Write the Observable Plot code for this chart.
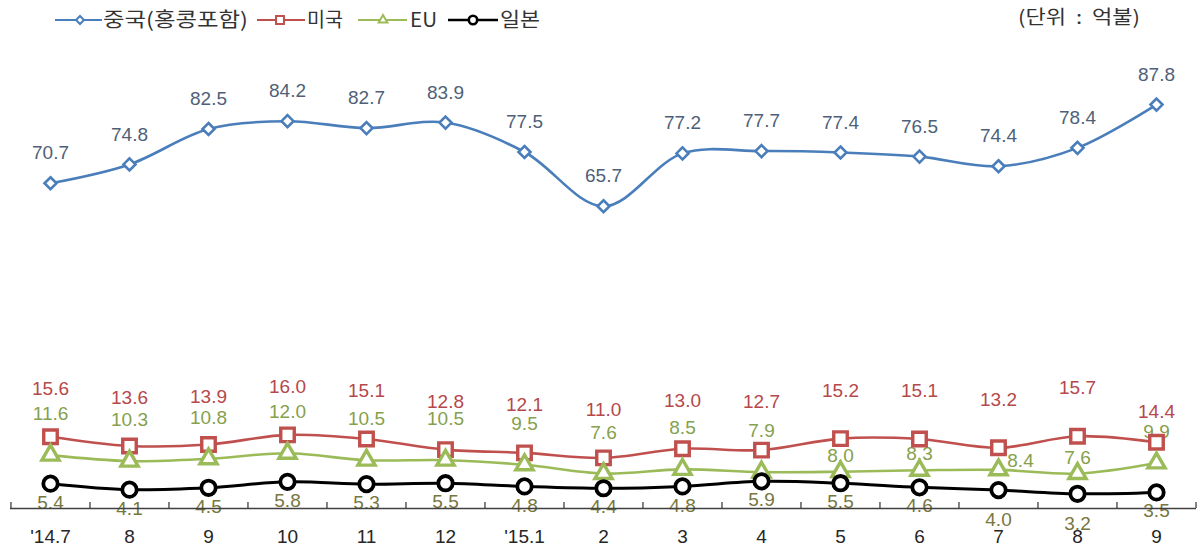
<!DOCTYPE html>
<html>
<head>
<meta charset="utf-8">
<script src="https://cdn.jsdelivr.net/npm/d3@7"></script>
<script src="https://cdn.jsdelivr.net/npm/@observablehq/plot@0.6"></script>
<style>
  html, body { margin: 0; padding: 0; background: #fff; overflow: hidden; }
  #legend { display: block; width: 1202px; height: 40px; }
  #chart svg { display: block; }
</style>
</head>
<body>
<svg id="legend" width="1202" height="40"></svg>
<div id="chart"></div>
<script>
// ---- data ----
const months = ["'14.7", "8", "9", "10", "11", "12", "'15.1", "2", "3", "4", "5", "6", "7", "8", "9"];
const seriesNames = ["중국(홍콩포함)", "미국", "EU", "일본"];
const china = [70.7, 74.8, 82.5, 84.2, 82.7, 83.9, 77.5, 65.7, 77.2, 77.7, 77.4, 76.5, 74.4, 78.4, 87.8];
const usa   = [15.6, 13.6, 13.9, 16.0, 15.1, 12.8, 12.1, 11.0, 13.0, 12.7, 15.2, 15.1, 13.2, 15.7, 14.4];
const eu    = [11.6, 10.3, 10.8, 12.0, 10.5, 10.5, 9.5, 7.6, 8.5, 7.9, 8.0, 8.3, 8.4, 7.6, 9.9];
const japan = [5.4, 4.1, 4.5, 5.8, 5.3, 5.5, 4.8, 4.4, 4.8, 5.9, 5.5, 4.6, 4.0, 3.2, 3.5];
const unitText = "(단위  :  억불)";

// ---- styles ----
const W = 1202, H = 509, ML = 10, MR = 6, MT = 8, MB = 41;
const step = (W - ML - MR) / months.length;
const numFont = "'Liberation Sans', Arial, sans-serif";
const styles = [
  {line: "#4A7EBB", label: "#4F5F78", symbol: "diamond2", r: 5.4, sw: 2.6, lw: 2.6},
  {line: "#C0504D", label: "#B5484B", symbol: "square2", r: 8.6, sw: 3.4, lw: 2.6},
  {line: "#9BBB59", label: "#86A04E", symbol: "triangle2", r: 8.2, sw: 3.4, lw: 2.6},
  {line: "#000000", label: "#77773F", symbol: "circle", r: 7.2, sw: 3.8, lw: 3}
];
const allValues = [china, usa, eu, japan];
const rows = allValues.map((vals, s) => vals.map((v, i) => ({s, i, v})));

// label offsets (px) per series
function labelDy(s, i) {
  if (s === 0) return -30;
  if (s === 1) return i === 14 ? -30 : -48;
  if (s === 2) {
    if (i === 14) return -31;
    if (i === 12) return -9;
    if (i >= 10) return -16;
    return -41;
  }
  return (i === 12 || i === 13) ? 30 : 19;
}
const labelRows = rows.flat().map(d => ({...d, dy: labelDy(d.s, d.i), dx: (d.s === 2 && d.i === 12) ? 22 : 0}));

const marks = [];
// data labels (drawn first, below everything)
Array.from(new Set(labelRows.map(d => d.dy + "|" + d.dx))).forEach(key => {
  const [dy, dx] = key.split("|").map(Number);
  const sub = labelRows.filter(d => d.dy === dy && d.dx === dx);
  styles.forEach((st, s) => {
    const ss = sub.filter(d => d.s === s);
    if (ss.length) marks.push(Plot.text(ss, {
      x: "i", y: "v", text: d => d.v.toFixed(1), dy, dx,
      fill: st.label, fontSize: 19, fontFamily: numFont
    }));
  });
});
// x axis line, ticks between categories, labels
marks.push(Plot.ruleY([0], {stroke: "#404040", strokeWidth: 1.3}));
marks.push(Plot.ruleX(d3.range(months.length), {x: d => d, dx: -step / 2, y1: 0, y2: 1.3, stroke: "#404040", strokeWidth: 1.3}));
marks.push(Plot.ruleX([months.length - 1], {x: d => d, dx: step / 2, y1: 0, y2: 1.3, stroke: "#404040", strokeWidth: 1.3}));
marks.push(Plot.text(d3.range(months.length), {x: d => d, y: 0, dy: 28, text: i => months[i], fill: "#262626", fontSize: 19, fontFamily: numFont}));
// lines
rows.forEach((r, s) => {
  marks.push(Plot.line(r, {x: "i", y: "v", stroke: styles[s].line, strokeWidth: styles[s].lw, curve: "catmull-rom"}));
});
// markers
rows.forEach((r, s) => {
  const st = styles[s];
  marks.push(Plot.dot(r, {x: "i", y: "v", symbol: st.symbol, r: st.r, stroke: st.line, strokeWidth: st.sw, fill: "white"}));
});

const chart = Plot.plot({
  width: W, height: H,
  marginLeft: ML, marginRight: MR, marginTop: MT, marginBottom: MB,
  x: {type: "point", domain: d3.range(months.length), padding: 0.5, axis: null},
  y: {domain: [0, 100], axis: null},
  style: {background: "white", overflow: "visible"},
  marks
});
document.getElementById("chart").appendChild(chart);

// ---- legend ----
const lg = d3.select("#legend");
const legendItems = [
  {x0: 55, x1: 102, mx: 80, tx: 103, tw: 145},
  {x0: 257, x1: 305, mx: 280, tx: 307, tw: 36},
  {x0: 358, x1: 407, mx: 383, tx: 410, tw: 27},
  {x0: 448, x1: 498, mx: 473, tx: 500, tw: 40}
];
const ly = 20;
legendItems.forEach((it, s) => {
  const st = styles[s];
  lg.append("line").attr("x1", it.x0).attr("x2", it.x1).attr("y1", ly).attr("y2", ly)
    .attr("stroke", st.line).attr("stroke-width", s === 3 ? 2.6 : 2.2);
  const sym = {diamond2: d3.symbolDiamond2, square2: d3.symbolSquare2, triangle2: d3.symbolTriangle2, circle: d3.symbolCircle}[st.symbol];
  const size = {diamond2: 40, square2: 80, triangle2: 55, circle: 55}[st.symbol];
  lg.append("path").attr("d", d3.symbol(sym, size)()).attr("transform", `translate(${it.mx},${ly})`)
    .attr("fill", "white").attr("stroke", st.line).attr("stroke-width", s === 3 ? 2.6 : 2);
  lg.append("text").attr("x", it.tx).attr("y", ly).attr("dy", "0.35em")
    .attr("textLength", it.tw).attr("lengthAdjust", "spacingAndGlyphs")
    .attr("font-family", "'Noto Sans CJK KR', sans-serif").attr("font-size", 20).attr("fill", "#333")
    .text(seriesNames[s]);
});
lg.append("text").attr("x", 1018).attr("y", 17).attr("dy", "0.35em")
  .attr("textLength", 122).attr("lengthAdjust", "spacingAndGlyphs")
  .attr("font-family", "'Noto Sans CJK KR', sans-serif").attr("font-size", 19).attr("fill", "#333")
  .attr("xml:space", "preserve").style("white-space", "pre")
  .text(unitText);
</script>
</body>
</html>
